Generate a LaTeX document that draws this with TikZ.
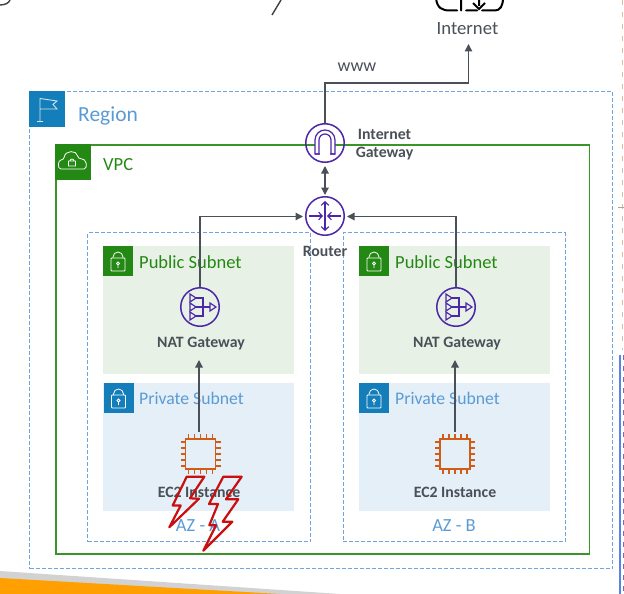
\documentclass[tikz,border=0pt]{standalone}
\usepackage{fontspec}
\setmainfont{Carlito}
\usetikzlibrary{arrows.meta,calc}
\definecolor{awsblue}{HTML}{147EBA}
\definecolor{awsgreen}{HTML}{248814}
\definecolor{dashblue}{HTML}{6FA5DC}
\definecolor{regiontxt}{HTML}{5B9BD5}
\definecolor{vpcline}{HTML}{3A9529}
\definecolor{pubfill}{HTML}{E8F1E6}
\definecolor{privfill}{HTML}{E4EFF7}
\definecolor{conn}{HTML}{4A5058}
\definecolor{awspurple}{HTML}{4D27AA}
\definecolor{chipc}{HTML}{D05C17}
\definecolor{boltred}{HTML}{C90F0F}
\tikzset{
  x=1pt,y=-1pt,
  dashbox/.style={draw=dashblue,line width=1.2pt,dash pattern=on 4pt off 2pt},
  iconbox/.style={minimum size=30pt,inner sep=0pt,outer sep=0pt},
  lbl/.style={anchor=west,inner sep=0pt},
  captxt/.style={font=\fontsize{15.8}{18}\selectfont\bfseries,text=conn,inner sep=0pt},
  roundicon/.style={circle,draw=awspurple,line width=1.5pt,minimum size=38.5pt,inner sep=0pt},
  arrowline/.style={draw=conn,line width=1.3pt,-{Triangle[length=7.5pt,width=7.5pt]}},
  glyph/.style={draw=awspurple,line width=1.2pt},
  routerarrow/.style={glyph,-{Straight Barb[length=3.5pt,width=7.5pt]}},
  bolt/.style={draw=boltred,line width=2.2pt,line join=round},
  lockw/.style={draw=white,line width=.8pt}
}
\newcommand{\lockicon}[1]{%
  \draw[lockw,rounded corners=.8pt] ($(#1)+(-7,-3)$) rectangle ($(#1)+(7,10)$);
  \draw[lockw] ($(#1)+(-5,-3)$) -- ($(#1)+(-5,-4)$) arc[start angle=180,end angle=360,radius=5] -- ($(#1)+(5,-3)$);
  \draw[lockw] ($(#1)+(0,2.5)$) circle (1.5) ($(#1)+(0,4)$) -- ($(#1)+(0,7)$);
}
\begin{document}
\begin{tikzpicture}
\useasboundingbox (0,0) rectangle (624,594);
% page fragments
\fill[gray!35] (0,571) -- (340,594) -- (0,594) -- cycle;
\fill[orange!75!yellow] (0,578) -- (280,594) -- (0,594) -- cycle;
\draw[black!75,line width=1.4pt] (0,5) .. controls (5,5) and (9,3) .. (10,0);
\draw[black!75,line width=1.4pt] (281,0) -- (272,15);
\draw[draw=brown!50,line width=1.3pt,dash pattern=on 5pt off 7pt] (622.5,0) -- (622.5,350);
\draw[gray!70,line width=1.5pt] (618,207.5) -- (624,207.5);
\draw[draw=dashblue!80!blue,line width=2pt] (620,355) -- (620,594);
\draw[draw=awspurple!70,line width=1pt,dash pattern=on 5pt off 6pt] (623.5,355) -- (623.5,594);
% containers
\node[dashbox,minimum width=583pt,minimum height=477pt,anchor=north west,inner sep=0pt] (region) at (29,91) {};
\node[draw=vpcline,line width=1.5pt,minimum width=533.5pt,minimum height=409pt,anchor=north west,inner sep=0pt] (vpc) at (55,144) {};
\node[dashbox,minimum width=223pt,minimum height=309pt,anchor=north west,inner sep=0pt] (aza) at (87,232) {};
\node[dashbox,minimum width=222pt,minimum height=309pt,anchor=north west,inner sep=0pt] (azb) at (342.5,232) {};
\node[fill=pubfill,minimum width=191pt,minimum height=128pt,anchor=north west,inner sep=0pt] (puba) at (103,246) {};
\node[fill=pubfill,minimum width=191pt,minimum height=128pt,anchor=north west,inner sep=0pt] (pubb) at (359,246) {};
\node[fill=privfill,minimum width=191pt,minimum height=128pt,anchor=north west,inner sep=0pt] (priva) at (103,383) {};
\node[fill=privfill,minimum width=191pt,minimum height=128pt,anchor=north west,inner sep=0pt] (privb) at (359,383) {};
% header icons
\node[fill=awsblue,minimum size=36pt,inner sep=0pt,anchor=north west] (regionicon) at (29,91) {};
\draw[white!80!awsblue,line width=.9pt] (40,122) -- (40,98) (37,121.5) -- (43,121.5) (40,98.5) -- (57,101) -- (53,104.5) -- (57,109) -- (40,109);
\node[fill=awsgreen,minimum size=35.5pt,inner sep=0pt,anchor=north west] (vpcicon) at (55,144) {};
\draw[white,line width=.8pt,rounded corners=3pt] (64,169) .. controls (57,169) and (58,160) .. (64,160) .. controls (65,150) and (77,150) .. (78,159) .. controls (87,158) and (88,169) .. (81,169) -- cycle;
\draw[white,line width=.8pt] (68.5,161) rectangle (75.5,166) (70,161) arc[start angle=180,end angle=360,radius=2];
\foreach \n/\x/\y/\c in {pa/118/261/awsgreen,pb/374/261/awsgreen,qa/118.5/398/awsblue,qb/374/398/awsblue}{
  \node[fill=\c,iconbox] (\n) at (\x,\y) {};
  \lockicon{\n}
}
% labels
\node[lbl,text=regiontxt,font=\fontsize{21.5}{24}\selectfont] (regionlbl) at (78,115.5) {Region};
\node[lbl,text=awsgreen,font=\fontsize{18.5}{20}\selectfont] (vpclbl) at (103,165) {VPC};
\node[lbl,text=awsgreen,font=\fontsize{18.5}{20}\selectfont] (pal) at (139,262) {Public Subnet};
\node[lbl,text=awsgreen,font=\fontsize{18.5}{20}\selectfont] (pbl) at (395,262) {Public Subnet};
\node[lbl,text=regiontxt,font=\fontsize{17.7}{20}\selectfont] (qal) at (139,398) {Private Subnet};
\node[lbl,text=regiontxt,font=\fontsize{17.7}{20}\selectfont] (qbl) at (395,398) {Private Subnet};
\node[text=regiontxt,font=\fontsize{18.5}{20}\selectfont,inner sep=0pt] (azal) at (198,526) {AZ - A};
\node[text=regiontxt,font=\fontsize{18.5}{20}\selectfont,inner sep=0pt] (azbl) at (454,526) {AZ - B};
% icons
\node[roundicon] (igw) at (325,143) {};
\node[roundicon] (router) at (325,216) {};
\node[roundicon] (nata) at (200,307) {};
\node[roundicon] (natb) at (456,307) {};
\node[inner sep=0pt,minimum size=30pt] (ec2a) at (200.5,454) {};
\node[inner sep=0pt,minimum size=30pt] (ec2b) at (455,454) {};
\foreach \n in {ec2a,ec2b}{
  \draw[chipc,line width=1.6pt] ($(\n)+(-15,-15)$) rectangle ($(\n)+(15,15)$);
  \foreach \d in {-12,-6,0,6,12}{
    \draw[chipc,line width=1.2pt] ($(\n)+(\d,-15)$) -- ++(0,-5) ($(\n)+(\d,15)$) -- ++(0,5)
      ($(\n)+(-15,\d)$) -- ++(-5,0) ($(\n)+(15,\d)$) -- ++(5,0);
  }
}
% glyphs
\draw[glyph,fill=white] ($(igw)+(-10,11)$) -- ($(igw)+(-10,-3)$) arc[start angle=180,end angle=360,radius=10] -- ($(igw)+(10,11)$) -- cycle;
\draw[glyph] ($(igw)+(-10,11)$) -- ($(igw)+(-6,11)$) -- ($(igw)+(-6,-3)$) arc[start angle=180,end angle=360,radius=6] -- ($(igw)+(6,11)$) -- ($(igw)+(10,11)$);
\fill[white] ($(igw)+(-5.2,10.4)$) rectangle ($(igw)+(5.2,11.8)$);
\draw[routerarrow] (router.center) -- ($(router)+(0,-15)$);
\draw[routerarrow] (router.center) -- ($(router)+(0,15)$);
\draw[routerarrow] ($(router)+(-16,0)$) -- ($(router)+(-2,0)$);
\draw[routerarrow] ($(router)+(16,0)$) -- ($(router)+(2,0)$);
\foreach \n in {nata,natb}{
  \draw[glyph] ($(\n)+(-4,-9)$) -- ($(\n)+(3,-9)$) -- ($(\n)+(3,9)$) -- ($(\n)+(-4,9)$)
    ($(\n)+(-4,0)$) -- ($(\n)+(10,0)$);
  \foreach \yy in {-9,0,9}{
    \draw[glyph] ($(\n)+(-10,\yy-4)$) -- ($(\n)+(-4,\yy)$) -- ($(\n)+(-10,\yy+4)$) -- cycle;
  }
  \draw[glyph] ($(\n)+(10,-4)$) -- ($(\n)+(16,0)$) -- ($(\n)+(10,4)$) -- cycle;
}
% captions
\node[captxt] (igwl1) at (384.5,134.5) {Internet};
\node[captxt] (igwl2) at (384.5,153.5) {Gateway};
\node[captxt] (routerl) at (325,251.5) {Router};
\node[captxt] (nal) at (201,344) {NAT Gateway};
\node[captxt] (nbl) at (457,344) {NAT Gateway};
\node[captxt] (eal) at (199,492) {EC2 Instance};
\node[captxt] (ebl) at (455,492) {EC2 Instance};
\node[text=conn,font=\fontsize{18.7}{20}\selectfont,inner sep=0pt] (inetl) at (467.5,29) {Internet};
\node[text=conn,font=\fontsize{18}{20}\selectfont,inner sep=0pt] (www) at (357,67.5) {www};
% internet icon
\coordinate (inettip) at (468.5,44);
\draw[black,line width=2pt,line cap=round] (436,-2) .. controls (437,8) and (442,10.5) .. (450,10.5) -- (457,10.5) (461,-2) -- (461,10.5) (466,10.5) -- (477,10.5) (495,10.5) -- (482,10.5) (495,10.5) .. controls (500,10.5) and (503,6) .. (503,-2);
\draw[black,line width=2pt] (479,-2) -- (479,6) (473,3) -- (479,9) -- (485,3);
% connectors
\draw[arrowline] (igw.north) -- (325,83) -- (468.5,83) -- (inettip);
\draw[arrowline,{Triangle[length=7.5pt,width=7.5pt]}-{Triangle[length=7.5pt,width=7.5pt]}] ($(igw.south)+(0,3)$) -- ($(router.north)+(0,-1)$);
\draw[arrowline] (nata.north) -- (200,216.5) -- ($(router.west)+(-2,0.5)$);
\draw[arrowline] (natb.north) -- (456,216.5) -- ($(router.east)+(2,0.5)$);
\coordinate (ec2atop) at (199,432);
\coordinate (ec2btop) at (455,432);
\draw[arrowline] (ec2atop) -- (199,360);
\draw[arrowline] (ec2btop) -- (455,360);
% lightning bolts
\draw[bolt] (186.7,476.7) -- (204.3,476.7) -- (190,498.3) -- (199,498.7) -- (169.3,527.3) -- (180.7,505.5) -- (172.7,505.5) -- cycle;
\draw[bolt] (223.3,476.7) -- (241.7,476.7) -- (226,499.3) -- (238.3,499.3) -- (222.7,521.7) -- (232.3,521.7) -- (203.3,550.7) -- (216,525.3) -- (209.3,525.3) -- (218,504) -- (209,504) -- cycle;
\end{tikzpicture}
\end{document}
